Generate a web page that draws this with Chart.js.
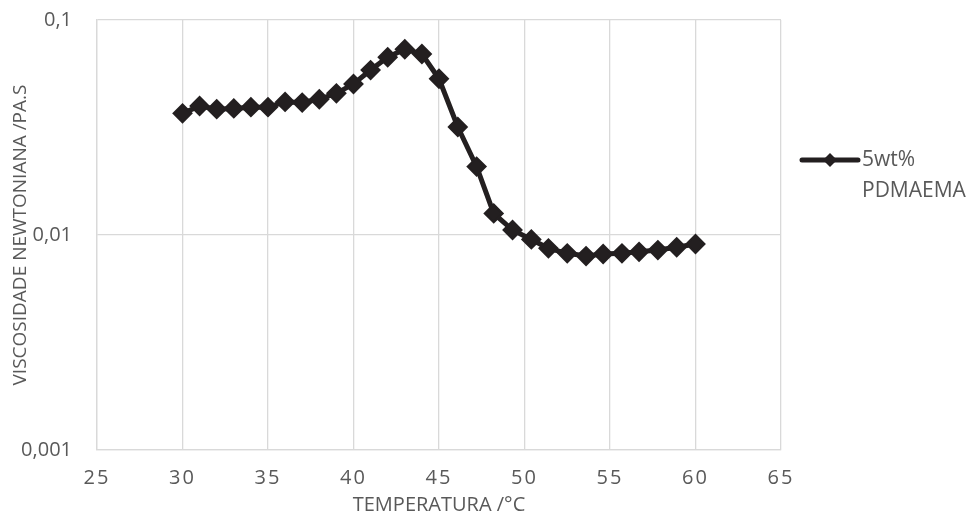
<!DOCTYPE html>
<html>
<head>
<meta charset="utf-8">
<script src="https://cdn.jsdelivr.net/npm/chart.js@4.4.1/dist/chart.umd.min.js"></script>
<style>
  html, body { margin: 0; padding: 0; background: #ffffff; }
  #wrap { width: 973px; height: 517px; position: relative; }
</style>
</head>
<body>
<div id="wrap"><canvas id="chart" width="973" height="517"></canvas></div>
<script>
// Temperatura (°C)
const temperatures = [30, 31, 32, 33, 34, 35, 36, 37, 38, 39, 40, 41, 42, 43, 44, 45,
  46.1, 47.2, 48.2, 49.3, 50.4, 51.4, 52.5, 53.6, 54.6, 55.7, 56.7, 57.8, 58.9, 60];
// Viscosidade newtoniana (Pa.s)
const viscosity = [0.0368, 0.0398, 0.0385, 0.0388, 0.0393, 0.0393, 0.0416, 0.0413, 0.0428, 0.0456,
  0.0504, 0.0585, 0.0671, 0.0731, 0.0695, 0.0533, 0.0318, 0.0208, 0.0126, 0.01055,
  0.00954, 0.00867, 0.00822, 0.00798, 0.00816, 0.00822, 0.00835, 0.00851, 0.00877, 0.00908];
const yTickValues = [0.001, 0.01, 0.1];
const yTickLabels = ['0,001', '0,01', '0,1'];
const seriesLabel = ['5wt%', 'PDMAEMA'];

const textColor = '#595959';
const gridColor = '#d9d9d9';
const lineColor = '#231f20';
const fontFamily = "'Open Sans', 'Liberation Sans', sans-serif";

const points = temperatures.map((t, i) => ({ x: t, y: viscosity[i] }));

// Legend drawn at the right of the plot, with a two-line label
const sideLegend = {
  id: 'sideLegend',
  afterDraw(chart) {
    const ctx = chart.ctx;
    const x0 = 802, x1 = 858, y = 160;
    ctx.save();
    ctx.strokeStyle = lineColor;
    ctx.lineWidth = 5;
    ctx.lineCap = 'round';
    ctx.beginPath();
    ctx.moveTo(x0, y);
    ctx.lineTo(x1, y);
    ctx.stroke();
    const cx = (x0 + x1) / 2, r = 7;
    ctx.fillStyle = lineColor;
    ctx.beginPath();
    ctx.moveTo(cx - r, y); ctx.lineTo(cx, y - r); ctx.lineTo(cx + r, y); ctx.lineTo(cx, y + r);
    ctx.closePath();
    ctx.fill();
    ctx.fillStyle = textColor;
    ctx.font = "21px " + fontFamily;
    ctx.textBaseline = 'middle';
    ctx.textAlign = 'left';
    ctx.fillText(seriesLabel[0], 862, y);
    ctx.fillText(seriesLabel[1], 862, y + 31);
    ctx.restore();
  }
};

// Spaced-out digits on the temperature axis
const spacedXTicks = {
  id: 'spacedXTicks',
  afterLayout(chart) {
    const sx = chart.scales.x;
    if (sx._spacedPatched) return;
    const orig = sx.drawLabels.bind(sx);
    sx.drawLabels = function (area) {
      const ctx = chart.ctx;
      ctx.save();
      ctx.letterSpacing = '2px';
      orig(area);
      ctx.restore();
    };
    sx._spacedPatched = true;
  }
};

new Chart(document.getElementById('chart'), {
  type: 'line',
  data: {
    datasets: [{
      label: seriesLabel.join(' '),
      data: points,
      borderColor: lineColor,
      backgroundColor: lineColor,
      borderWidth: 5,
      pointStyle: 'rectRot',
      pointRadius: 9,
      pointBorderWidth: 2,
      pointBackgroundColor: lineColor,
      pointBorderColor: lineColor,
      tension: 0,
      fill: false
    }]
  },
  options: {
    responsive: false,
    animation: false,
    layout: { autoPadding: false, padding: { left: 0, right: 192, top: 20, bottom: 0 } },
    plugins: {
      legend: { display: false },
      tooltip: { enabled: false }
    },
    scales: {
      x: {
        type: 'linear',
        min: 25,
        max: 65,
        ticks: {
          stepSize: 5,
          color: textColor,
          font: { size: 20, family: fontFamily },
          padding: 16,
          maxRotation: 0
        },
        grid: { color: gridColor, lineWidth: 1.3, drawTicks: false },
        border: { color: gridColor, width: 1.3 },
        title: {
          display: true,
          text: 'TEMPERATURA /°C',
          color: textColor,
          font: { size: 20, family: fontFamily },
          padding: { top: 2, bottom: 0 }
        },
        afterFit(scale) { scale.height = 67; }
      },
      y: {
        type: 'logarithmic',
        min: 0.001,
        max: 0.1,
        afterBuildTicks(scale) {
          scale.ticks = yTickValues.map(v => ({ value: v }));
        },
        ticks: {
          color: textColor,
          font: { size: 20, family: fontFamily },
          padding: 25,
          callback(value) {
            const i = yTickValues.findIndex(v => Math.abs(v - value) < value * 1e-6);
            return i >= 0 ? yTickLabels[i] : '';
          }
        },
        grid: { color: gridColor, lineWidth: 1.3, drawTicks: false },
        border: { color: gridColor, width: 1.3 },
        title: {
          display: true,
          text: 'VISCOSIDADE NEWTONIANA /PA.S',
          color: textColor,
          font: { size: 19, family: fontFamily },
          padding: { top: 9, bottom: 0 }
        },
        afterFit(scale) {
          scale.width = 97;
          // tick padding is horizontal here; only half a label is needed above the top tick
          scale.paddingTop = 12;
          scale.paddingBottom = 12;
        }
      }
    }
  },
  plugins: [sideLegend, spacedXTicks]
});
</script>
</body>
</html>
